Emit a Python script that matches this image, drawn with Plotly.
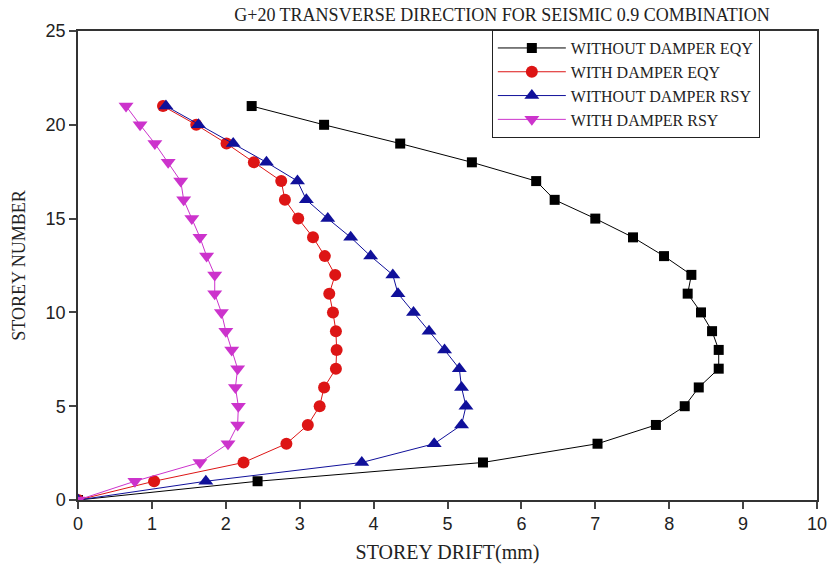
import plotly.graph_objects as go

storeys = list(range(0, 22))

without_damper_eqy = [0, 2.43, 5.48, 7.03, 7.82, 8.21, 8.40, 8.67, 8.67, 8.58, 8.43,
                      8.25, 8.30, 7.93, 7.51, 7.00, 6.45, 6.20, 5.33, 4.36, 3.33, 2.35]
with_damper_eqy = [0, 1.03, 2.24, 2.82, 3.11, 3.27, 3.33, 3.49, 3.50, 3.49, 3.45,
                   3.40, 3.48, 3.34, 3.18, 2.98, 2.80, 2.75, 2.38, 2.01, 1.60, 1.15]
without_damper_rsy = [0, 1.73, 3.84, 4.82, 5.19, 5.25, 5.19, 5.16, 4.96, 4.75, 4.54,
                      4.33, 4.26, 3.96, 3.69, 3.38, 3.09, 2.97, 2.55, 2.10, 1.63, 1.19]
with_damper_rsy = [0, 0.77, 1.65, 2.03, 2.16, 2.17, 2.13, 2.16, 2.08, 2.00, 1.94,
                   1.85, 1.85, 1.74, 1.65, 1.54, 1.43, 1.39, 1.22, 1.04, 0.84, 0.65]

series_names = ["WITHOUT DAMPER EQY", "WITH DAMPER EQY", "WITHOUT DAMPER RSY", "WITH DAMPER RSY"]
x_ticks = list(range(0, 11))
y_ticks = [0, 5, 10, 15, 20, 25]

styles = [
    dict(color="#000000", symbol="square", size=10),
    dict(color="#dd1515", symbol="circle", size=12),
    dict(color="#10109a", symbol="triangle-up", size=13),
    dict(color="#cc33cc", symbol="triangle-down", size=13),
]
data = [without_damper_eqy, with_damper_eqy, without_damper_rsy, with_damper_rsy]

fig = go.Figure()
for name, xs, st in zip(series_names, data, styles):
    fig.add_trace(go.Scatter(
        x=xs, y=storeys, name=name, mode="lines+markers",
        line=dict(color=st["color"], width=1),
        marker=dict(color=st["color"], symbol=st["symbol"], size=st["size"],
                    line=dict(width=0)),
    ))

serif = "Liberation Serif, Times New Roman, serif"
sans = "Liberation Sans, Arial, sans-serif"

fig.update_layout(
    width=827, height=564,
    margin=dict(l=78, r=10, t=31, b=64),
    paper_bgcolor="white", plot_bgcolor="white",
    title=dict(text="G+20 TRANSVERSE DIRECTION FOR SEISMIC 0.9 COMBINATION",
               x=0.607, xanchor="center", y=0.974, yanchor="middle",
               font=dict(family=serif, size=18, color="#222222")),
    legend=dict(x=0.560, y=1.002, xanchor="left", yanchor="top",
                bgcolor="white", bordercolor="#222222", borderwidth=1,
                font=dict(family=serif, size=16, color="#222222"),
                tracegroupgap=0, itemwidth=68),
    showlegend=True,
)
fig.update_xaxes(
    range=[0, 10], tickvals=x_ticks, ticks="outside", ticklen=7, tickwidth=1.5,
    showline=True, linecolor="#333333", linewidth=1.5, mirror=True, showgrid=False,
    zeroline=False, automargin=False, ticklabeloverflow="allow",
    tickfont=dict(family=sans, size=18, color="#222222"),
    title=dict(text="STOREY DRIFT(mm)", font=dict(family=serif, size=20, color="#222222")),
)
fig.update_yaxes(
    range=[0, 25], tickvals=y_ticks, ticks="outside", ticklen=7, tickwidth=1.5,
    showline=True, linecolor="#333333", linewidth=1.5, mirror=True, showgrid=False,
    zeroline=False, automargin=False, ticklabeloverflow="allow",
    tickfont=dict(family=sans, size=18, color="#222222"),
    title=dict(text="STOREY NUMBER", font=dict(family=serif, size=18, color="#222222")),
)

fig.write_html("out.html", config={"displayModeBar": False},
               post_script="document.body.style.margin='0';document.body.style.overflow='hidden';")
